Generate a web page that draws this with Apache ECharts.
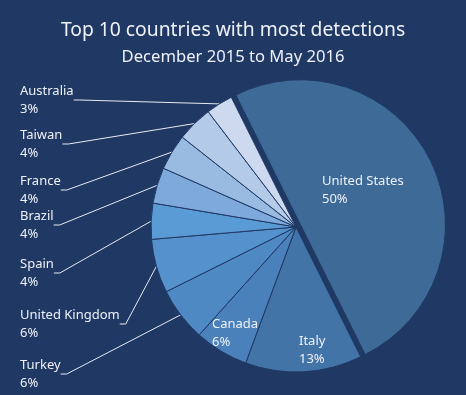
<!DOCTYPE html>
<html>
<head>
<meta charset="utf-8">
<script src="https://cdn.jsdelivr.net/npm/echarts@6/dist/echarts.min.js"></script>
<style>
html,body{margin:0;padding:0;background:#203864;}
#chart{width:466px;height:395px;}
</style>
</head>
<body>
<div id="chart"></div>
<script>
// Data
const countries = ['United States', 'Italy', 'Canada', 'Turkey', 'United Kingdom', 'Spain', 'Brazil', 'France', 'Taiwan', 'Australia'];
const shares = [50, 13, 6, 6, 6, 4, 4, 4, 4, 3];
const insideLabels = ['United States', 'Italy', 'Canada'];
const explodedSlice = 'United States';

// Styles / layout
const sliceColors = ['#3d6a96', '#4274a8', '#4a81ba', '#4e89c4', '#5592cd', '#5b9bd5', '#7eaadb', '#99bbe1', '#b3cae8', '#ccd9ee'];
const labelAnchors = {
  'United States': [322, 172], 'Italy': [299, 332], 'Canada': [212, 315],
  'Turkey': [20, 356], 'United Kingdom': [20, 306], 'Spain': [20, 255],
  'Brazil': [20, 207], 'France': [20, 172], 'Taiwan': [20, 126], 'Australia': [20, 82]
};

const chart = echarts.init(document.getElementById('chart'), null, {renderer: 'canvas'});
const FONT = 'Noto Sans';
const TEXT = '#eef1f7';

// main series: slices (exploded slice's label is drawn by the overlay series)
const mainData = countries.map((c, i) => {
  const inside = insideLabels.indexOf(c) >= 0;
  return {
    name: c,
    value: shares[i],
    selected: c === explodedSlice,
    itemStyle: {color: sliceColors[i]},
    label: {show: c !== explodedSlice, position: inside ? 'inside' : 'outside'},
    labelLine: {show: !inside}
  };
});
// overlay series: same pie, invisible slices, only the exploded slice's label
const overlayData = countries.map((c, i) => ({
  name: c,
  value: shares[i],
  itemStyle: {color: 'rgba(0,0,0,0)', borderWidth: 0},
  label: {show: c === explodedSlice, position: 'inside'},
  labelLine: {show: false}
}));

const common = {
  type: 'pie',
  center: [296, 227],
  radius: 145,
  startAngle: 116.5,
  clockwise: true,
  avoidLabelOverlap: false,
  emphasis: {disabled: true},
  label: {
    formatter: '{b}\n{d}%',
    color: TEXT,
    fontFamily: FONT,
    fontSize: 13,
    lineHeight: 18
  },
  labelLayout: function (params) {
    const p = labelAnchors[countries[params.dataIndex]];
    return {x: p[0], y: p[1], align: 'left', verticalAlign: 'top'};
  }
};

chart.setOption({
  backgroundColor: '#203864',
  animation: false,
  title: [{
    text: 'Top 10 countries with most detections',
    left: 'center', top: 16,
    textStyle: {color: TEXT, fontFamily: FONT, fontSize: 19.3, fontWeight: 'normal'}
  }, {
    text: 'December 2015 to May 2016',
    left: 'center', top: 44,
    textStyle: {color: TEXT, fontFamily: FONT, fontSize: 16.6, fontWeight: 'normal'}
  }],
  series: [Object.assign({}, common, {
    selectedMode: 'single',
    selectedOffset: 5,
    itemStyle: {borderColor: '#203864', borderWidth: 1},
    labelLine: {
      length: 10, length2: 6,
      lineStyle: {color: '#e6ebf4', width: 1}
    },
    data: mainData
  }), Object.assign({}, common, {
    silent: true,
    selectedMode: false,
    z: 3,
    data: overlayData
  })]
});
</script>
</body>
</html>
